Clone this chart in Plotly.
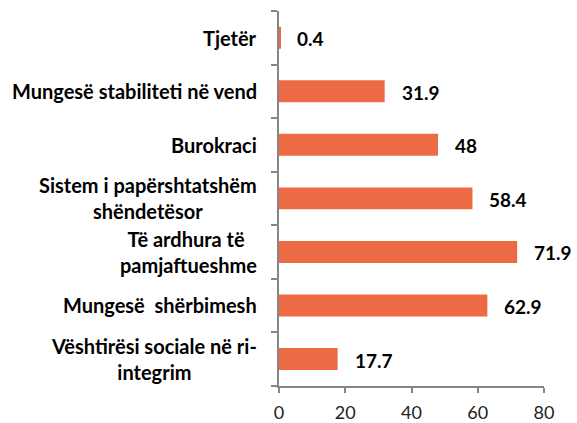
import plotly.graph_objects as go

categories = [
    "Vështirësi sociale në ri-<br>integrim",
    "Mungesë  shërbimesh",
    "Të ardhura të <br>pamjaftueshme",
    "Sistem i papërshtatshëm<br>shëndetësor",
    "Burokraci",
    "Mungesë stabiliteti në vend",
    "Tjetër",
]
values = [17.7, 62.9, 71.9, 58.4, 48, 31.9, 0.4]
value_labels = ["17.7", "62.9", "71.9", "58.4", "48", "31.9", "0.4"]
x_ticks = [0, 20, 40, 60, 80]

FONT = "Lato"
BAR = "#ED6B44"
AX = "#868686"

fig = go.Figure(go.Bar(
    x=values, y=categories, orientation="h",
    marker=dict(color=BAR, line=dict(width=0)),
    width=0.41, hoverinfo="skip",
))

ann = []
for c, v, t in zip(categories, values, value_labels):
    ann.append(dict(x=v, y=c, xref="x", yref="y", text="<b>%s</b>" % t,
                    showarrow=False, xanchor="left", xshift=15, yshift=-1,
                    font=dict(family=FONT, size=19, color="#000000")))
    ann.append(dict(x=0, y=c, xref="paper", yref="y", text="<b>%s</b>" % c,
                    showarrow=False, xanchor="right", align="center", xshift=-20,
                    font=dict(family=FONT, size=20, color="#000000")))

fig.update_layout(
    width=577, height=423,
    margin=dict(l=279, r=33, t=11, b=37),
    paper_bgcolor="white", plot_bgcolor="white",
    showlegend=False,
    annotations=ann,
    xaxis=dict(range=[0, 80], tickvals=x_ticks, ticks="outside", ticklen=5,
               tickwidth=1.5, tickcolor=AX, showline=True, linecolor=AX,
               linewidth=1.5, showgrid=False, zeroline=False,
               ticklabelstandoff=5, automargin=False,
               tickfont=dict(family=FONT, size=18, color="#222222")),
    yaxis=dict(type="category", categoryorder="array", categoryarray=categories,
               showticklabels=False, ticks="outside", tickson="boundaries",
               ticklen=6, tickwidth=1.5, tickcolor=AX, showline=True,
               linecolor=AX, linewidth=1.5, showgrid=False, zeroline=False,
               automargin=False),
)

fig.write_html("out.html", config={"displayModeBar": False},
               post_script="document.body.style.margin='0';document.body.style.overflow='hidden';")
